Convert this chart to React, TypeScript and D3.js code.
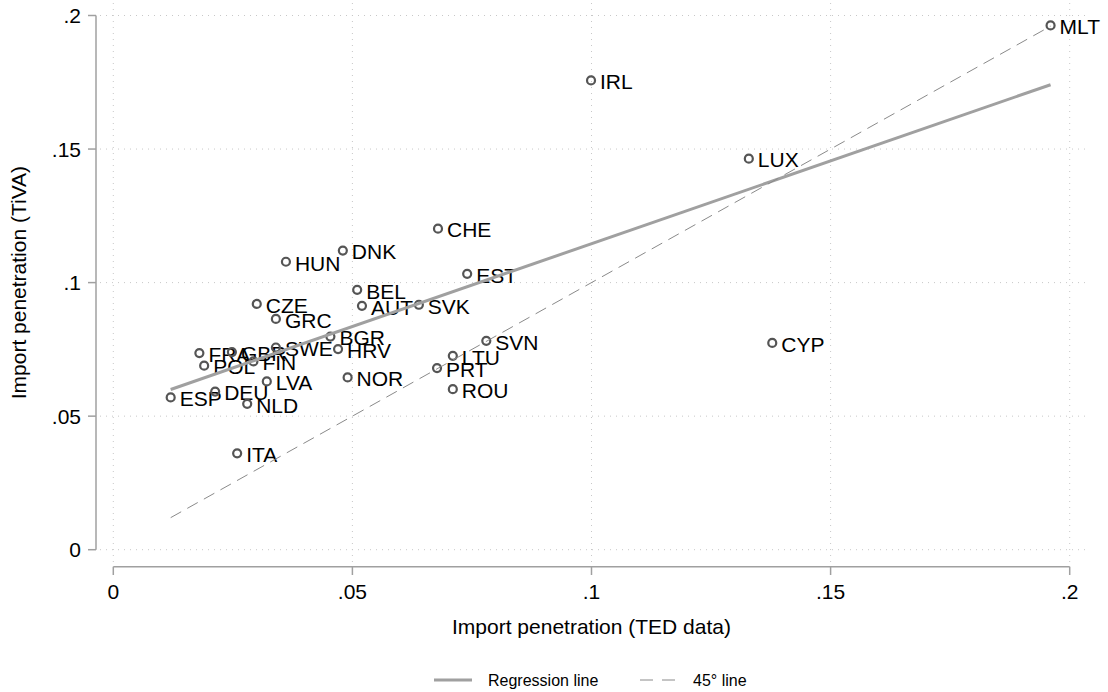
import * as d3 from "d3";

// Import penetration by country: TED data (x) vs TiVA (y)
const countries = ["ESP", "DEU", "NLD", "ITA", "LVA", "POL", "FRA", "GBR", "FIN", "SWE",
  "HRV", "BGR", "NOR", "GRC", "CZE", "HUN", "DNK", "BEL", "AUT", "SVK",
  "CHE", "EST", "SVN", "LTU", "PRT", "ROU", "CYP", "LUX", "IRL", "MLT"];
const ted = [0.012, 0.0213, 0.028, 0.0259, 0.0321, 0.019, 0.018, 0.0248, 0.0293, 0.034,
  0.047, 0.0454, 0.049, 0.034, 0.030, 0.0361, 0.048, 0.051, 0.052, 0.0639,
  0.0679, 0.074, 0.078, 0.071, 0.0677, 0.071, 0.1378, 0.1329, 0.0999, 0.196];
const tiva = [0.057, 0.0592, 0.0546, 0.0361, 0.063, 0.0689, 0.0736, 0.074, 0.0705, 0.0757,
  0.0751, 0.0798, 0.0645, 0.0864, 0.092, 0.1078, 0.112, 0.0973, 0.0913, 0.0917,
  0.1202, 0.1033, 0.0782, 0.0726, 0.068, 0.0601, 0.0774, 0.1464, 0.1757, 0.1963];
const xTicks = [0, 0.05, 0.1, 0.15, 0.2];
const yTicks = [0, 0.05, 0.1, 0.15, 0.2];

const W = 1108;
const H = 692;
const font = "'Liberation Sans', Arial, sans-serif";

const fmt = (v: number) => (v === 0 ? "0" : d3.format(".2~f")(v).replace(/^0/, ""));

export default function App() {
  const x = d3.scaleLinear().domain([0, 0.2]).range([113.3, 1069.7]);
  const y = d3.scaleLinear().domain([0, 0.2]).range([549.7, 15.5]);

  // least squares fit
  const mx = d3.mean(ted)!;
  const my = d3.mean(tiva)!;
  const sxy = d3.sum(ted, (v, i) => (v - mx) * (tiva[i] - my));
  const sxx = d3.sum(ted, (v) => (v - mx) * (v - mx));
  const slope = sxy / sxx;
  const icpt = my - slope * mx;
  const [xmin, xmax] = d3.extent(ted) as [number, number];
  const line = d3.line<number>().x((v) => x(v));
  const regPath = line.y((v) => y(icpt + slope * v))([xmin, xmax]);
  const diagPath = d3.line<number>().x((v) => x(v)).y((v) => y(v))([xmin, xmax]);

  const gridColor = "#c8c8c8";
  const axisColor = "#a0a0a0";

  return (
    <svg width={W} height={H} style={{ position: "absolute", left: 0, top: 0, background: "#fff" }}
      fontFamily={font}>
      {/* grid */}
      {yTicks.map((t) => (
        <line key={"gy" + t} x1={100} x2={1086} y1={y(t)} y2={y(t)}
          stroke={gridColor} strokeWidth={1} strokeDasharray="1 5" />
      ))}
      {xTicks.map((t) => (
        <line key={"gx" + t} x1={x(t)} x2={x(t)} y1={3} y2={563}
          stroke={gridColor} strokeWidth={1} strokeDasharray="1 5" />
      ))}

      {/* y axis */}
      <line x1={96} x2={96} y1={y(0.2)} y2={y(0)} stroke={axisColor} strokeWidth={1.5} />
      {yTicks.map((t) => (
        <g key={"yt" + t}>
          <line x1={88} x2={96} y1={y(t)} y2={y(t)} stroke={axisColor} strokeWidth={1.5} />
          <text x={81} y={y(t)} dy="0.36em" textAnchor="end" fontSize={21}>{fmt(t)}</text>
        </g>
      ))}
      <text transform={`translate(26,${y(0.1)}) rotate(-90)`} textAnchor="middle" fontSize={21}>
        Import penetration (TiVA)
      </text>

      {/* x axis */}
      <line x1={x(0)} x2={x(0.2)} y1={566.7} y2={566.7} stroke={axisColor} strokeWidth={1.5} />
      {xTicks.map((t) => (
        <g key={"xt" + t}>
          <line x1={x(t)} x2={x(t)} y1={566.7} y2={575} stroke={axisColor} strokeWidth={1.5} />
          <text x={x(t)} y={599} textAnchor="middle" fontSize={21}>{fmt(t)}</text>
        </g>
      ))}
      <text x={x(0.1)} y={634} textAnchor="middle" fontSize={21}>Import penetration (TED data)</text>

      {/* points and labels */}
      {countries.map((c, i) => (
        <g key={c}>
          <circle cx={x(ted[i])} cy={y(tiva[i])} r={4} fill="none" stroke="#555" strokeWidth={2.2} />
          <text x={x(ted[i]) + 9} y={y(tiva[i])} dy="0.42em" fontSize={21}>{c}</text>
        </g>
      ))}

      {/* fitted lines */}
      <path d={regPath ?? ""} fill="none" stroke="#a0a0a0" strokeWidth={3} />
      <path d={diagPath ?? ""} fill="none" stroke="#8a8a8a" strokeWidth={1} strokeDasharray="12 7" />

      {/* legend */}
      <line x1={434} x2={472} y1={680} y2={680} stroke="#a0a0a0" strokeWidth={3} />
      <text x={488} y={680} dy="0.36em" fontSize={16}>Regression line</text>
      <line x1={640} x2={677} y1={680} y2={680} stroke="#8a8a8a" strokeWidth={1} strokeDasharray="13 9" />
      <text x={693} y={680} dy="0.36em" fontSize={16}>45° line</text>
    </svg>
  );
}
